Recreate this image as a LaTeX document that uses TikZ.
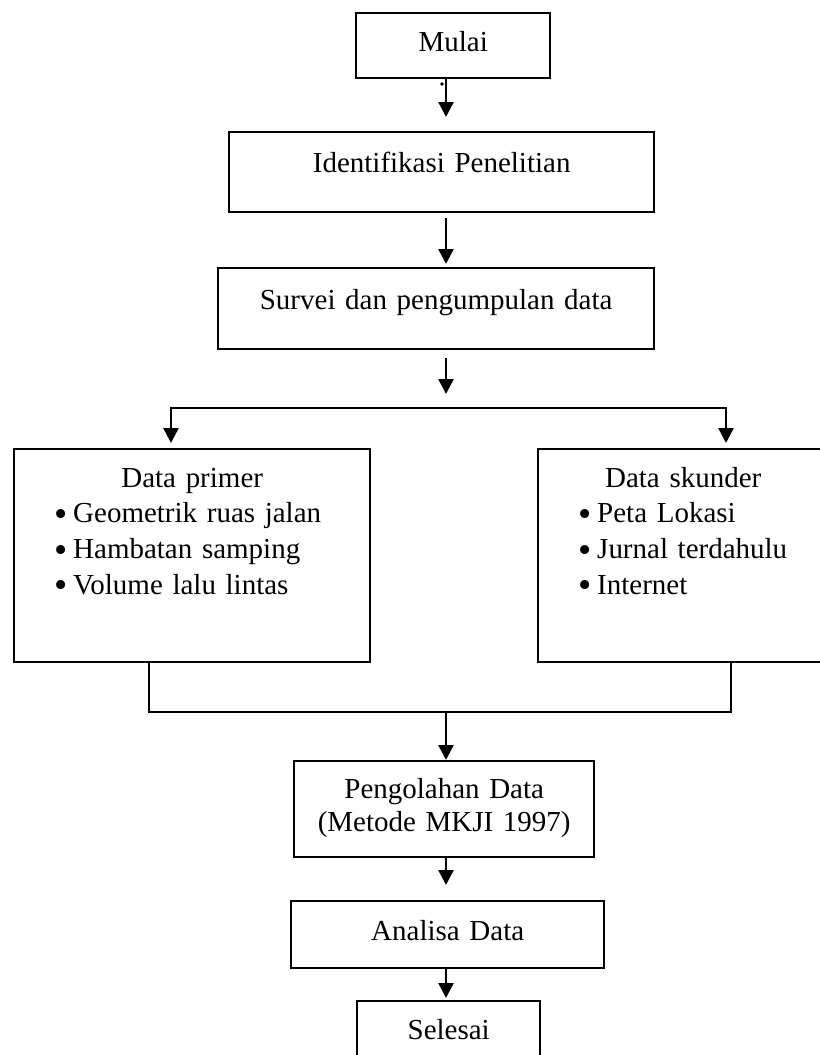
\documentclass[tikz,border=0pt]{standalone}
\usepackage{fontspec}
\setmainfont{Liberation Serif}
\usepackage{tikz}
\usetikzlibrary{arrows.meta}

\newcommand{\itembul}{\hspace*{0.8cm}\makebox[0.38cm][l]{\raisebox{-0.07cm}{\scalebox{1.3}{\textbullet}}}}

\begin{document}
\begin{tikzpicture}[x=0.02cm, y=-0.02cm, line width=1.4pt,
    flowtip/.tip={Triangle[width=0.3cm,length=0.3cm]},
    box/.style={draw, inner xsep=0pt, inner ysep=0pt, anchor=north west,
        align=center, font=\fontsize{16.5}{20.3}\selectfont},
    listbox/.style={box, align=left},
    arr/.style={-flowtip},
    arrs/.style={flowtip-flowtip}]
\useasboundingbox (0,0) rectangle (819,1055);
\node[box, text width=3.88cm, text height=0.76cm, text depth=0.54cm] (mulai) at (355,12) {Mulai};
\node[box, text width=8.5cm, text height=0.8cm, text depth=0.8cm] (ident) at (228,131) {Identifikasi Penelitian};
\node[box, text width=8.72cm, text height=0.82cm, text depth=0.8cm] (survei) at (217,267) {Survei dan pengumpulan data};
\node[listbox, text width=7.12cm, text height=0.76cm, text depth=3.5cm] (primer) at (13,448) {%
    \makebox[\linewidth]{Data primer}\\
    \itembul Geometrik ruas jalan\\
    \itembul Hambatan samping\\
    \itembul Volume lalu lintas};
\node[listbox, text width=5.8cm, text height=0.76cm, text depth=3.5cm] (skunder) at (537,448) {%
    \makebox[\linewidth]{Data skunder}\\
    \itembul Peta Lokasi\\
    \itembul Jurnal terdahulu\\
    \itembul Internet};
\node[box, text width=6cm, text height=0.74cm, text depth=1.18cm] (olah) at (293,760) {Pengolahan Data\\[-0.054cm](Metode MKJI 1997)};
\node[box, text width=6.26cm, text height=0.78cm, text depth=0.56cm] (analisa) at (290,900) {Analisa Data};
\node[box, text width=3.66cm, text height=0.76cm, text depth=0.64cm] (selesai) at (356,1000) {Selesai};

\coordinate (spine) at (446,0);
\coordinate (split) at (446,408);
\coordinate (lsplit) at (171,408);
\coordinate (rsplit) at (726,408);
\coordinate (ljoin) at (149,712);
\coordinate (rjoin) at (731,712);

\draw[arr, shorten >=0.28cm] (mulai.south -| spine) -- (ident.north -| spine);
\fill (442,84) circle (1.1pt);
\draw[arr, shorten <=0.1cm, shorten >=0.06cm] (ident.south -| spine) -- (survei.north -| spine);
\draw[arr, shorten <=0.16cm, shorten >=0.28cm] (survei.south -| spine) -- (split);
\draw[arrs, shorten <=0.1cm, shorten >=0.1cm] (lsplit |- primer.north) -- (lsplit) -- (rsplit) -- (rsplit |- skunder.north);
\draw (ljoin |- primer.south) -- (ljoin) -- (rjoin) -- (rjoin |- skunder.south);
\draw[arr] (ljoin -| spine) -- (olah.north -| spine);
\draw[arr, shorten >=0.3cm] (olah.south -| spine) -- (analisa.north -| spine);
\draw[arr, shorten >=0.04cm] (analisa.south -| spine) -- (selesai.north -| spine);
\end{tikzpicture}
\end{document}
